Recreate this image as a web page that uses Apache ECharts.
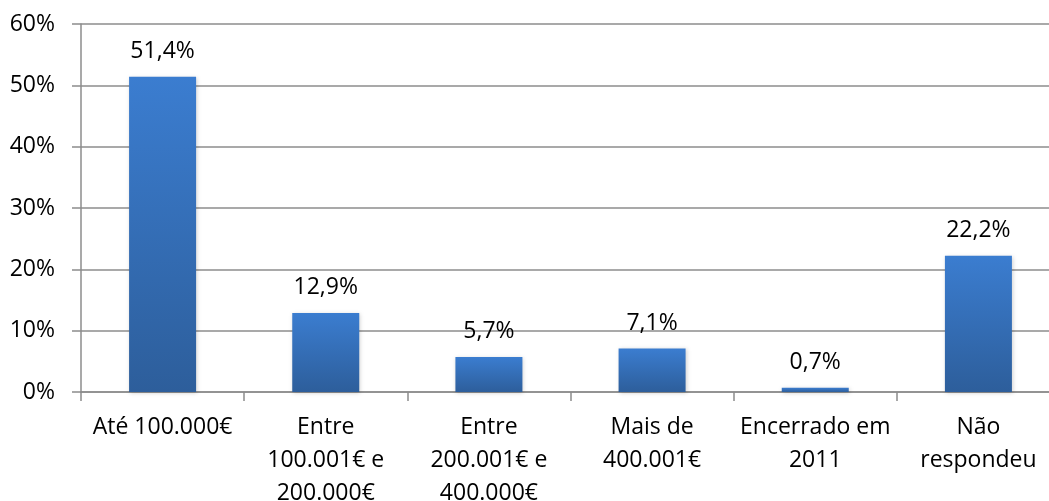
<!DOCTYPE html>
<html>
<head>
<meta charset="utf-8">
<script src="https://cdn.jsdelivr.net/npm/echarts@6/dist/echarts.min.js"></script>
<style>
  html, body { margin: 0; padding: 0; background: #fff; }
  #chart { width: 1049px; height: 501px; }
</style>
</head>
<body>
<div id="chart"></div>
<script>
const categories = [
  'Até 100.000€',
  'Entre\n100.001€ e\n200.000€',
  'Entre\n200.001€ e\n400.000€',
  'Mais de\n400.001€',
  'Encerrado em\n2011',
  'Não\nrespondeu'
]
const values = [51.4, 12.9, 5.7, 7.1, 0.7, 22.2]
const yTicks = [0, 10, 20, 30, 40, 50, 60]

const font = '"Open Sans", "Noto Sans", sans-serif'

const chart = echarts.init(document.getElementById('chart'), null, { renderer: 'canvas' })

chart.setOption({
  animation: false,
  grid: { left: 81, top: 24, width: 979, height: 368, containLabel: false, outerBoundsMode: 'none' },
  xAxis: {
    type: 'category',
    data: categories,
    axisLine: { lineStyle: { color: '#8c8c8c', width: 1.5 } },
    axisTick: { show: true, length: 9, alignWithLabel: false, lineStyle: { color: '#8c8c8c', width: 1.5 } },
    axisLabel: {
      color: '#000',
      fontFamily: font,
      fontSize: 23,
      lineHeight: 33,
      margin: 19,
      interval: 0
    }
  },
  yAxis: {
    type: 'value',
    min: yTicks[0],
    max: yTicks[yTicks.length - 1],
    interval: 10,
    axisLine: { show: true, lineStyle: { color: '#8c8c8c', width: 1.5 } },
    axisTick: { show: true, length: 9, lineStyle: { color: '#8c8c8c', width: 1.5 } },
    splitLine: { show: true, lineStyle: { color: '#8c8c8c', width: 1.5 } },
    axisLabel: {
      color: '#000',
      fontFamily: font,
      fontSize: 23,
      margin: 26,
      formatter: '{value}%'
    }
  },
  series: [
    {
      type: 'bar',
      data: values,
      barWidth: 67,
      itemStyle: {
        color: {
          type: 'linear',
          x: 0, y: 0, x2: 0, y2: 1,
          colorStops: [
            { offset: 0, color: '#3b7dd0' },
            { offset: 1, color: '#2d5e9b' }
          ]
        },
        shadowColor: 'rgba(0,0,0,0.18)',
        shadowBlur: 4,
        shadowOffsetX: 1,
        shadowOffsetY: 1
      },
      label: {
        show: true,
        position: 'top',
        distance: 14,
        color: '#000',
        fontFamily: font,
        fontSize: 23,
        formatter: (p) => p.value.toFixed(1).replace('.', ',') + '%'
      }
    }
  ]
})
</script>
</body>
</html>
